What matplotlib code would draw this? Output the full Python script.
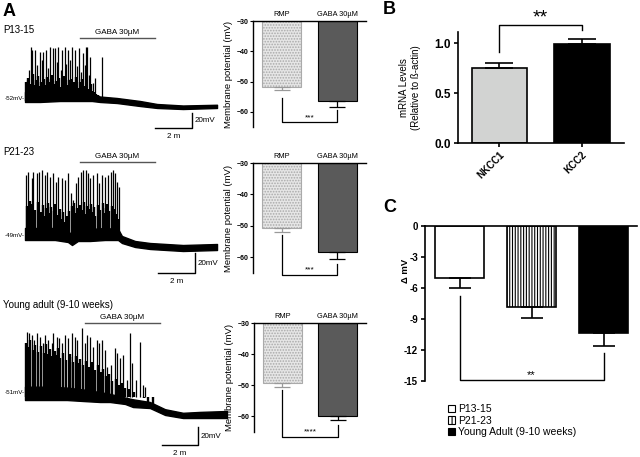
import matplotlib
matplotlib.use("Agg")
import matplotlib.pyplot as plt
from matplotlib.patches import Patch

plt.rcParams["font.family"] = ["Liberation Sans", "DejaVu Sans"]
plt.rcParams["hatch.linewidth"] = 0.8

# ---- panel A traces (time in min, voltage in mV) ----
rows = ["P13-15", "P21-23", "Young adult (9-10 weeks)"]
rmp_labels = ["-52mV-", "-49mV-", "-51mV-"]
rmp_mv = [-52, -49, -51]

band1_t = [0, 0.81, 1.89, 2.97, 3.62, 4.05, 4.97, 6.22, 7.14, 8.54, 10.38]
band1_lo = [-57.3, -57.3, -56, -56, -56, -57.3, -58.7, -62.7, -65.3, -66.7, -65.3]
band1_hi = [-44, -43, -43, -44, -46, -50, -52, -56, -60, -62, -61]
spk1_t = [0.11, 0.22, 0.32, 0.38, 0.54, 0.65, 0.81, 0.92, 0.97, 1.14, 1.24, 1.35,
          1.51, 1.62, 1.73, 1.78, 1.95, 2.0, 2.16, 2.22, 2.32, 2.43, 2.54, 2.70,
          2.81, 2.92, 3.03, 3.14, 3.24, 3.30, 3.35, 3.46, 3.51, 3.68, 3.78, 4.16]
spk1_v = [-28, -14.7, 16, 12, 12, -8, 9.3, -1.3, 9.3, 12, -12, 16,
          14.7, 14.7, -4, 16, -14.7, 12, 16, -6.7, 12, -1.3, 16, 12,
          -9.3, 14.7, -17.3, 8, -8, 16, 16, -21.3, 2.7, -32, -25.3, 2.7]
# short spikes filling the dense part of the burst
sub1_t = [0.05, 0.15, 0.27, 0.44, 0.49, 0.6, 0.71, 0.76, 0.87, 1.03, 1.08, 1.19, 1.3,
          1.41, 1.46, 1.57, 1.68, 1.84, 1.9, 2.05, 2.11, 2.27, 2.38, 2.49, 2.6, 2.65,
          2.76, 2.87, 2.98, 3.09, 3.19, 3.41, 3.57, 3.63, 3.73, 3.86, 3.95]
sub1_v = [-30, -25, -33, -20, -35, -28, -22, -36, -30, -26, -34, -24, -31,
          -27, -21, -33, -29, -25, -37, -30, -23, -34, -28, -26, -35, -30,
          -24, -38, -31, -27, -36, -40, -33, -42, -44, -46, -48]

band2_t = [0, 0.81, 1.62, 2.32, 2.54, 2.86, 3.51, 4.32, 5.03, 5.24, 5.95, 6.76, 8.54, 10.38]
band2_lo = [-54, -54, -54, -56, -59, -55, -55, -54, -54, -57, -61, -63, -65, -64]
band2_hi = [-42, -42, -42, -45, -49, -44, -43, -42, -43, -50, -55, -57, -59, -58]
spk2_t = [0.05, 0.18, 0.36, 0.45, 0.63, 0.77, 0.90, 1.08, 1.17, 1.35, 1.50, 1.68,
          1.80, 1.98, 2.16, 2.34, 2.47, 2.61, 2.76, 2.88, 3.01, 3.15, 3.30, 3.42,
          3.51, 3.69, 3.88, 4.02, 4.15, 4.32, 4.50, 4.63, 4.74, 4.86, 4.99, 5.10]
spk2_v = [11, 14.3, 7.7, 14.3, 12.7, 14.3, 16, 11, 14.3, 9.3, 12.7, 4.3,
          9.3, 7.7, 6, 12.7, -7.3, -14, 2.7, 9.3, 14.3, 16, 16, 12.7,
          7.7, 11, 12.7, 2.7, 11, 9.3, 11, 14.3, 16, 12.7, 4.3, -0.7]
sub2_t = [0.1, 0.25, 0.3, 0.4, 0.55, 0.7, 0.84, 0.97, 1.02, 1.13, 1.25, 1.3, 1.42,
          1.57, 1.62, 1.74, 1.88, 1.93, 2.05, 2.1, 2.22, 2.28, 2.4, 2.52, 2.66, 2.71,
          2.82, 2.95, 3.08, 3.2, 3.25, 3.36, 3.47, 3.57, 3.63, 3.75, 3.8, 3.94, 4.08,
          4.2, 4.26, 4.38, 4.44, 4.56, 4.68, 4.8, 4.92, 5.05]
sub2_v = [-20, -15, -28, -18, -24, -16, -26, -19, -30, -22, -17, -27, -21,
          -25, -18, -29, -23, -33, -26, -36, -38, -30, -25, -20, -17, -27,
          -22, -19, -24, -16, -28, -20, -23, -18, -26, -21, -30, -19, -24,
          -17, -27, -22, -18, -25, -20, -23, -28, -33]

band3_t = [0, 1.39, 2.33, 3.22, 4.17, 4.72, 5.56, 6.0, 6.94, 7.78, 8.78, 9.72, 11.22]
band3_lo = [-58.8, -58.8, -58.8, -59.9, -61, -61, -63.2, -66.6, -67.7, -75.4, -78.8, -78.8, -78.8]
band3_hi = [-44, -44, -45, -47, -50, -52, -56, -58, -61, -69, -73, -72, -71]
spk3_t = [0.09, 0.24, 0.37, 0.5, 0.65, 0.83, 0.98, 1.11, 1.29, 1.48, 1.57, 1.76,
          1.91, 2.04, 2.22, 2.41, 2.59, 2.78, 2.91, 3.15, 3.33, 3.46, 3.61, 3.79,
          3.98, 4.13, 4.26, 4.44, 4.57, 4.76, 5.0, 5.13, 5.28, 5.46, 5.65, 5.83,
          5.93, 6.17, 6.39, 6.54, 6.67]
spk3_v = [17.1, 15.3, 13.4, 7.9, 15.3, 11.6, 4.2, 13.4, 7.9, 4.2, 15.3, 11.6,
          9.8, 4.2, 13.4, 9.8, 15.3, 11.6, 7.9, 20.9, 4.2, 13.4, 11.6, 0.4,
          7.9, 4.2, 7.9, -3.2, -21.8, -19.9, -1.3, -6.9, -12.4, -8.8, -36.6, 15.3,
          -18, -36.6, 6, -42.1, -44]
sub3_t = [0.04, 0.15, 0.3, 0.43, 0.57, 0.72, 0.9, 1.04, 1.18, 1.22, 1.37, 1.42, 1.65,
          1.7, 1.83, 1.97, 2.12, 2.3, 2.48, 2.52, 2.68, 2.85, 3.0, 3.07, 3.22, 3.4,
          3.53, 3.7, 3.87, 4.05, 4.2, 4.35, 4.5, 4.65, 4.85, 5.05, 5.2, 5.38, 5.55,
          5.75, 6.05, 6.3, 6.6, 6.85, 7.1]
sub3_v = [5, 0, 8, -3, 2, -5, 1, -6, 3, -8, -2, -10, -4,
          -9, -1, -12, -6, -14, -8, -11, -16, -10, -18, -13, -20, -15,
          -22, -17, -25, -20, -28, -24, -32, -30, -38, -35, -42, -40, -45,
          -47, -50, -55, -57, -62, -65]

gaba_on = [2.97, 2.97, 3.33]
gaba_off = [7.03, 7.03, 7.5]
gaba_mv = [28, 24, 26.8]
scale_t = [9.03, 9.19, 9.61]
scale_mv = [-92, -87, -108.8]

# ---- panel A bar charts ----
conds = ["RMP", "GABA 30\u00b5M"]
mp_mean = [[-51.8, -56.4], [-50.8, -58.4], [-49.4, -60.0]]
mp_err = [[1.0, 2.0], [1.2, 2.2], [1.2, 1.3]]
mp_stars = ["***", "***", "****"]

# ---- panel B ----
genes = ["NKCC1", "KCC2"]
mrna = [0.75, 0.99]
mrna_err = [0.055, 0.05]

# ---- panel C ----
groups = ["P13-15", "P21-23", "Young Adult (9-10 weeks)"]
dmv = [-5.0, -7.8, -10.4]
dmv_err = [1.0, 1.1, 1.2]

W, H = 640, 457
fig = plt.figure(figsize=(W / 100, H / 100), dpi=100)


def px_axes(x0, y0, x1, y1):
    return fig.add_axes([x0 / W, 1 - y1 / H, (x1 - x0) / W, (y1 - y0) / H])


# trace layout: box y, px per min, baseline px, px per mV
trace_cfg = [(0, 145, 18.5, 98, 0.75), (145, 298, 18.5, 235, 1.0), (298, 457, 18.0, 393, 0.9)]
bands = [(band1_t, band1_lo, band1_hi), (band2_t, band2_lo, band2_hi), (band3_t, band3_lo, band3_hi)]
spikes = [(spk1_t, spk1_v), (spk2_t, spk2_v), (spk3_t, spk3_v)]
subs = [(sub1_t, sub1_v), (sub2_t, sub2_v), (sub3_t, sub3_v)]
label_y = [30, 152, 305]

for i in range(3):
    y0, y1, ppm, bpy, ppv = trace_cfg[i]
    base = rmp_mv[i]
    ax = px_axes(0, y0, 235, y1)
    ax.set_xlim(-25 / ppm, 210 / ppm)
    ax.set_ylim(base - (y1 - bpy) / ppv, base + (bpy - y0) / ppv)
    ax.axis("off")
    bt, lo, hi = bands[i]
    ax.fill_between(bt, lo, hi, color="k", lw=1.0)
    st, sv = subs[i]
    ax.vlines(st, base - 4, sv, color="k", lw=1.7)
    st, sv = spikes[i]
    ax.vlines(st, base - 4, sv, color="k", lw=0.9)
    ax.text(-0.02, base, rmp_labels[i], ha="right", va="center", fontsize=4.5)
    # GABA application bar
    gy = gaba_mv[i]
    ax.plot([gaba_on[i], gaba_off[i]], [gy, gy], color="#555555", lw=1)
    ax.text((gaba_on[i] + gaba_off[i]) / 2, gy + 2 / ppv, "GABA 30\u00b5M",
            ha="center", va="bottom", fontsize=5.8)
    # scale bars: 2 min, 20 mV
    sx, sy = scale_t[i], scale_mv[i]
    ax.plot([sx - 2, sx, sx], [sy, sy, sy + 20], color="k", lw=1)
    ax.text(sx + 3 / ppm, sy + 10, "20mV", ha="left", va="center", fontsize=5.8)
    ax.text(sx - 1, sy - 5 / ppv, "2 m", ha="center", va="top", fontsize=5.8)
    fig.text(3 / W, 1 - label_y[i] / H, rows[i], ha="left", va="center", fontsize=7)

fig.text(3 / W, 1 - 11 / H, "A", fontsize=13, fontweight="bold", ha="left", va="center")

# bar panels of A
bar_box = [(253, 21, 366, 127), (253, 163, 366, 273), (254, 323, 366, 432)]
brk = [(-55.4, -59.4, -63.3), (-53, -62, -65.5), (-51.6, -62.9, -66.5)]
for i in range(3):
    ax = px_axes(*bar_box[i])
    ax.set_xlim(-0.51, 1.51)
    ax.set_ylim(-65, -30)
    m, e = mp_mean[i], mp_err[i]
    ax.bar(0, m[0] + 30, bottom=-30, width=0.7, color="#e6e6e6", edgecolor="#aaaaaa",
           hatch="......", lw=0.8)
    ax.bar(1, m[1] + 30, bottom=-30, width=0.7, color="#5a5a5a", edgecolor="k", lw=0.8)
    ax.errorbar(0, m[0], yerr=[[e[0]], [0]], color="#999999", capsize=6, lw=0.9, capthick=0.9)
    ax.errorbar(1, m[1], yerr=[[e[1]], [0]], color="k", capsize=6, lw=0.9, capthick=0.9)
    a, b, c = brk[i]
    ax.plot([0, 0, 1, 1], [a, c, c, b], color="k", lw=0.9, clip_on=False)
    ax.text(0.5, c + 0.3, mp_stars[i], ha="center", va="bottom", fontsize=6)
    for s in ["right", "bottom"]:
        ax.spines[s].set_visible(False)
    ax.spines["top"].set_linewidth(1)
    ax.spines["left"].set_linewidth(1)
    ax.set_yticks([-30, -40, -50, -60])
    ax.tick_params(axis="y", length=2.5, width=0.8, labelsize=5, pad=1)
    for lab in ax.get_yticklabels():
        lab.set_fontweight("bold")
    ax.xaxis.tick_top()
    ax.set_xticks([0, 1])
    ax.set_xticklabels(conds, fontsize=5.3)
    ax.tick_params(axis="x", length=0, pad=2)
    ax.set_ylabel("Membrane potential (mV)", fontsize=6.8, labelpad=2)

# panel B
axb = px_axes(458, 32, 624, 143)
axb.set_xlim(-0.503, 1.51)
axb.set_ylim(0, 1.11)
axb.bar(0, mrna[0], width=0.67, color="#d2d3d2", edgecolor="k", lw=1.2)
axb.bar(1, mrna[1], width=0.67, color="k", edgecolor="k", lw=1.2)
axb.errorbar([0, 1], mrna, yerr=[[0, 0], mrna_err], fmt="none", ecolor="k",
             capsize=10, lw=1.2, capthick=1.2)
axb.plot([0, 0, 1, 1], [0.91, 1.18, 1.18, 1.13], color="k", lw=1, clip_on=False)
axb.text(0.5, 1.17, "**", ha="center", va="bottom", fontsize=14)
for s in ["top", "right"]:
    axb.spines[s].set_visible(False)
for s in ["left", "bottom"]:
    axb.spines[s].set_linewidth(1.2)
axb.set_yticks([0, 0.5, 1.0])
axb.set_yticklabels(["0.0", "0.5", "1.0"], fontsize=8.5, fontweight="bold")
axb.set_xticks([0, 1])
axb.set_xticklabels(genes, rotation=45, ha="right", rotation_mode="anchor",
                    fontsize=7, fontweight="bold")
axb.tick_params(length=3, width=1.2, pad=2)
axb.set_ylabel("mRNA Levels\n(Relative to \u00df-actin)", fontsize=7)
axb.yaxis.set_label_coords(-0.225, 0.5)
fig.text(383 / W, 1 - 10 / H, "B", fontsize=13, fontweight="bold", ha="left", va="center")

# panel C
axc = px_axes(425, 226, 637, 381)
axc.set_xlim(-0.48, 2.465)
axc.set_ylim(-15, 0)
axc.bar(0, dmv[0], width=0.68, color="white", edgecolor="k", lw=1.2)
axc.bar(1, dmv[1], width=0.68, color="white", edgecolor="k", lw=1.2, hatch="||||||")
axc.bar(2, dmv[2], width=0.68, color="k", edgecolor="k", lw=1.2)
axc.errorbar([0, 1, 2], dmv, yerr=[dmv_err, [0, 0, 0]], fmt="none", ecolor="k",
             capsize=8, lw=1.2, capthick=1.2)
axc.plot([0, 0, 2, 2], [-6.8, -14.9, -14.9, -12.3], color="k", lw=1, clip_on=False)
axc.text(1, -14.9, "**", ha="center", va="bottom", fontsize=8)
for s in ["bottom", "right"]:
    axc.spines[s].set_visible(False)
for s in ["left", "top"]:
    axc.spines[s].set_linewidth(1.2)
axc.set_xticks([])
axc.set_yticks([0, -3, -6, -9, -12, -15])
axc.set_yticklabels(["0", "-3", "-6", "-9", "-12", "-15"], fontsize=7, fontweight="bold")
axc.tick_params(axis="y", length=3, width=1.2, pad=2)
axc.set_ylabel("\u0394 mV", fontsize=6.8, fontweight="bold")
axc.yaxis.set_label_coords(-0.07, 0.71)
fig.text(383 / W, 1 - 208 / H, "C", fontsize=13, fontweight="bold", ha="left", va="center")

handles = [Patch(facecolor="white", edgecolor="k", lw=0.8),
           Patch(facecolor="white", edgecolor="k", lw=0.8, hatch="||||"),
           Patch(facecolor="k", edgecolor="k", lw=0.8)]
fig.legend(handles, groups, loc="upper left", bbox_to_anchor=(448 / W, 1 - 404 / H),
           frameon=False, fontsize=7.5, handlelength=0.7, handleheight=0.7,
           labelspacing=0.15, handletextpad=0.3, borderpad=0, borderaxespad=0)

fig.savefig("out.png", dpi=100)
